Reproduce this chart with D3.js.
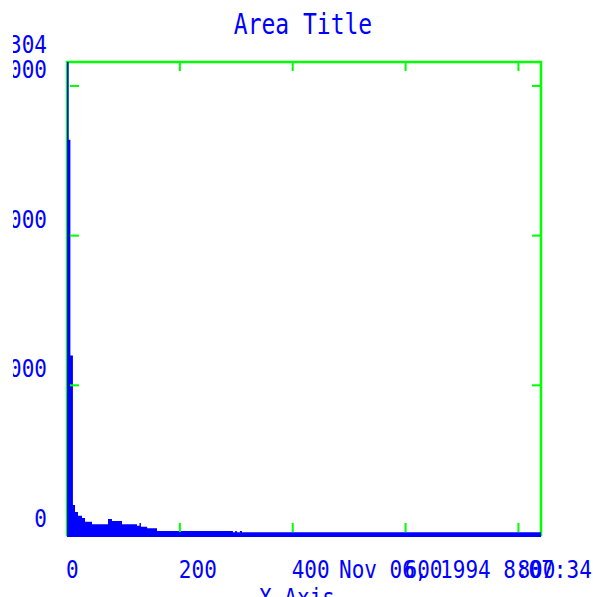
<!DOCTYPE html>
<html>
<head>
<meta charset="utf-8">
<script src="https://cdn.jsdelivr.net/npm/d3@7"></script>
<style>
  body { margin: 0; background: #fff; }
  text { font-family: "DejaVu Sans Mono", "Liberation Mono", monospace; fill: #0000ff; }
</style>
</head>
<body>
<div id="chart"></div>
<script>
// histogram steps: bin start (x units) and count
const binStarts = [0, 3, 6, 10.5, 14.2, 19.5, 26.6, 31.9, 44.3, 72.7, 79.7, 97.5, 124, 128.5, 131, 142, 159.5, 294, 298, 301, 306.5, 310];
const binValues = [3304, 2640, 1200, 200, 154, 129, 114, 89, 71, 107, 94, 71, 62, 80, 55, 45, 27, 18, 27, 18, 27, 18];
const xEnd = 840;
const xTicks = [0, 200, 400, 600, 800];
const yTicks = [0, 1000, 2000, 3000];
const yTopLabel = "3304";
const title = "Area Title";
const xTitle = "X Axis";
const stamp = "Nov 06, 1994 8:07:34";

const W = 593, H = 597;
const plot = {left: 67, right: 541, top: 62, bottom: 535};
const blue = "#0000ff", green = "#00ff00";

const svg = d3.select("#chart").append("svg")
    .attr("width", W)
    .attr("height", H);

const x = d3.scaleLinear().domain([0, xEnd]).range([plot.left, plot.right]);
const y = d3.scaleLinear().domain([0, 3160]).range([plot.bottom, plot.top]);

svg.append("clipPath").attr("id", "plotclip")
  .append("rect")
    .attr("x", plot.left).attr("y", plot.top)
    .attr("width", plot.right - plot.left).attr("height", plot.bottom - plot.top + 3);

svg.append("clipPath").attr("id", "labelclip")
  .append("rect")
    .attr("x", 13).attr("y", 0).attr("width", W).attr("height", H);

// frame
svg.append("rect")
    .attr("x", plot.left).attr("y", plot.top)
    .attr("width", plot.right - plot.left).attr("height", plot.bottom - plot.top)
    .attr("fill", "none").attr("stroke", green).attr("stroke-width", 2.5);

// step area
const area = d3.area()
    .curve(d3.curveStepAfter)
    .x(d => x(d.x))
    .y0(y(0))
    .y1(d => y(d.v));
const stepData = binStarts.map((s, i) => ({x: s, v: binValues[i]}))
    .concat([{x: xEnd, v: binValues[binValues.length - 1]}]);
svg.append("path")
    .attr("clip-path", "url(#plotclip)")
    .attr("d", area(stepData))
    .attr("fill", blue);

svg.append("line")
    .attr("x1", plot.left).attr("x2", plot.right)
    .attr("y1", plot.bottom + 0.5).attr("y2", plot.bottom + 0.5)
    .attr("stroke", blue).attr("stroke-width", 3);

// ticks on all four sides
const tickLen = 9;
xTicks.slice(1).forEach(t => {
  svg.append("line").attr("x1", x(t)).attr("x2", x(t))
      .attr("y1", plot.bottom - 3).attr("y2", plot.bottom - 3 - tickLen)
      .attr("stroke", green).attr("stroke-width", 2);
  svg.append("line").attr("x1", x(t)).attr("x2", x(t))
      .attr("y1", plot.top).attr("y2", plot.top + tickLen)
      .attr("stroke", green).attr("stroke-width", 2);
});
yTicks.slice(1).forEach(t => {
  svg.append("line").attr("x1", plot.left + 3).attr("x2", plot.left + 3 + tickLen)
      .attr("y1", y(t)).attr("y2", y(t))
      .attr("stroke", green).attr("stroke-width", 2);
  svg.append("line").attr("x1", plot.right).attr("x2", plot.right - tickLen)
      .attr("y1", y(t)).attr("y2", y(t))
      .attr("stroke", green).attr("stroke-width", 2);
});

// text helper: slightly tall monospace like the vector font
function label(tx, ty, str, size, anchor, parent) {
  (parent || svg).append("text")
      .attr("transform", `translate(${tx},${ty}) scale(1,1.2)`)
      .attr("text-anchor", anchor)
      .attr("font-size", size)
      .text(str);
}

label(303, 34, title, 23, "middle");

const yl = svg.append("g").attr("clip-path", "url(#labelclip)");
yTicks.forEach(t => label(47, y(t) - 8, String(t), 21, "end", yl));
label(47, plot.top - 9, yTopLabel, 21, "end", yl);

xTicks.forEach(t => label(x(t) - 1, 578, String(t), 21, "start"));
label(339, 578, stamp, 21, "start");
label(297, 606, xTitle, 21, "middle");
</script>
</body>
</html>
